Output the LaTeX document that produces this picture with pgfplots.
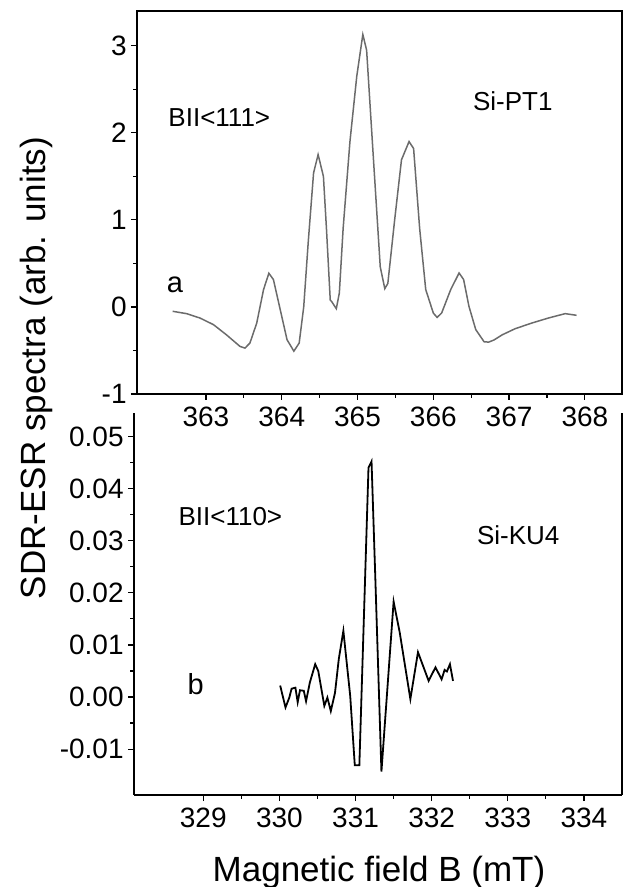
\documentclass[border=0pt]{standalone}
\usepackage{fontspec}
\setmainfont{Liberation Sans}
\usepackage{pgfplots}
\pgfplotsset{compat=1.18}

\pgfplotstableread{
x y
362.56 -0.05
362.745 -0.077
362.92 -0.127
363.10 -0.204
363.27 -0.32
363.45 -0.454
363.515 -0.473
363.58 -0.415
363.67 -0.185
363.76 0.2
363.83 0.387
363.89 0.315
364.00 -0.108
364.07 -0.377
364.16 -0.508
364.23 -0.415
364.29 0.0
364.35 0.75
364.42 1.54
364.48 1.75
364.55 1.50
364.59 0.9
364.64 0.08
364.66 0.06
364.72 -0.02
364.76 0.16
364.81 0.9
364.90 1.9
364.99 2.65
365.07 3.13
365.12 2.95
365.21 1.7
365.30 0.46
365.36 0.21
365.40 0.27
365.49 1.0
365.58 1.69
365.68 1.90
365.74 1.82
365.82 0.9
365.90 0.2
366.00 -0.07
366.05 -0.12
366.11 -0.07
366.23 0.2
366.34 0.39
366.40 0.315
366.47 0.008
366.56 -0.26
366.67 -0.40
366.73 -0.404
366.80 -0.38
366.91 -0.32
367.08 -0.25
367.30 -0.185
367.52 -0.127
367.74 -0.077
367.89 -0.096
}\spectrumA

\pgfplotstableread{
x y
330.01 0.0022
330.08 -0.0020
330.13 -0.0001
330.16 0.0016
330.21 0.0018
330.24 -0.0010
330.27 0.0013
330.32 0.0012
330.35 -0.0008
330.40 0.0028
330.47 0.0063
330.51 0.0050
330.59 -0.0017
330.63 -0.0001
330.675 -0.0027
330.73 0.0008
330.78 0.0073
330.84 0.0127
330.93 0.0002
330.99 -0.0131
331.05 -0.0131
331.17 0.0440
331.21 0.0452
331.26 0.0227
331.34 -0.0143
331.50 0.0183
331.58 0.0124
331.72 -0.0004
331.82 0.0086
331.96 0.0031
332.05 0.0057
332.13 0.0034
332.17 0.0052
332.20 0.0049
332.24 0.0063
332.28 0.0031
}\spectrumB

\newcommand{\tickfont}{\fontsize{14}{16}\selectfont}
\newcommand{\notefont}{\fontsize{13}{15}\selectfont}

\pgfplotsset{
  spec/.style={
    scale only axis,
    tick align=outside,
    xtick pos=bottom, ytick pos=left,
    major tick length=3pt, minor tick length=2pt,
    minor tick num=1,
    axis line style={line width=0.8pt},
    every tick/.append style={black, line width=0.6pt},
    /pgf/number format/assume math mode=true,
    yticklabel style={inner sep=2pt},
  },
}

\begin{document}
\begin{tikzpicture}
\useasboundingbox (0,0) rectangle (314.5pt,443.5pt);

\begin{axis}[spec,
  at={(68.5pt,246.5pt)}, anchor=south west,
  width=242.5pt, height=191.5pt,
  xmin=362.09, xmax=368.49, ymin=-1, ymax=3.4,
  ytick={-1,0,1,2,3},
  xtick={363,364,365,366,367,368},
  xticklabel={\tickfont\pgfmathprintnumber{\tick}},
  yticklabel={\tickfont\pgfmathprintnumber{\tick}},
]
\addplot[color=black!58, line width=0.75pt] table {\spectrumA};
\node[anchor=west, inner sep=0, font=\notefont] at (axis cs:362.5,2.17) {BII<111>};
\node[anchor=west, inner sep=0, font=\notefont] at (axis cs:366.52,2.36) {Si-PT1};
\node[inner sep=0, font=\fontsize{14.5}{16}\selectfont] at (axis cs:362.59,0.253) {a};
\end{axis}

\begin{axis}[spec,
  at={(67pt,46pt)}, anchor=south west,
  width=244pt, height=191pt,
  axis x line*=bottom, axis y line*=box,
  xmin=328.09, xmax=334.5, ymin=-0.0188, ymax=0.0545,
  ytick={-0.01,0,0.01,0.02,0.03,0.04,0.05},
  xtick={329,330,331,332,333,334},
  scaled y ticks=false,
  xticklabel={\tickfont\pgfmathprintnumber{\tick}},
  yticklabel={\tickfont\pgfmathprintnumber[fixed, fixed zerofill, precision=2]{\tick}},
]
\addplot[color=black, line width=0.9pt] table {\spectrumB};
\node[anchor=west, inner sep=0, font=\notefont] at (axis cs:328.67,0.0346) {BII<110>};
\node[anchor=west, inner sep=0, font=\notefont] at (axis cs:332.59,0.0310) {Si-KU4};
\node[inner sep=0, font=\fontsize{14.5}{16}\selectfont] at (axis cs:328.9,0.0025) {b};
\end{axis}

\node[rotate=90, inner sep=0, font=\fontsize{17.5}{20}\selectfont] at (18pt,259.5pt) {SDR-ESR spectra (arb. units)};
\node[anchor=base, inner sep=0, font=\fontsize{17.5}{20}\selectfont] at (189.5pt,2.65pt) {Magnetic field B (mT)};
\end{tikzpicture}
\end{document}
